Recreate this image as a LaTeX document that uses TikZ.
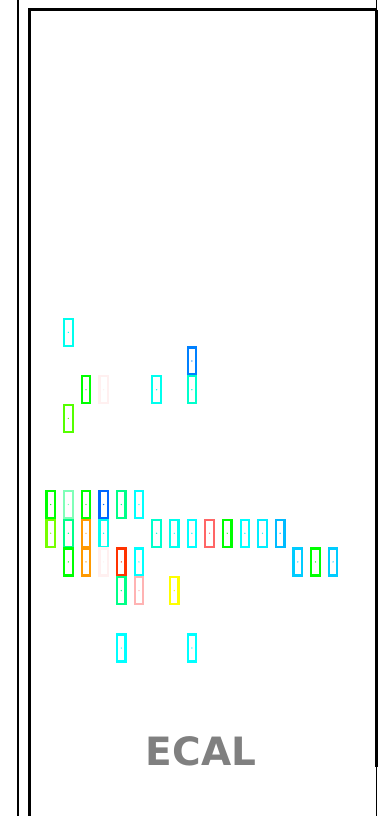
\documentclass[tikz,border=0pt]{standalone}
\usepackage{fontspec}
\newfontfamily\labelfont{DejaVu Sans}
\definecolor{aqua}{HTML}{00FFEE}
\definecolor{hitcyan}{HTML}{00FFFF}
\definecolor{hitgreen}{HTML}{00FF00}
\definecolor{hityellow}{HTML}{FFFF00}
\definecolor{turq}{HTML}{00FFCC}
\definecolor{spring}{HTML}{00FF88}
\definecolor{mint}{HTML}{80FFB8}
\definecolor{lime}{HTML}{55FF00}
\definecolor{chart}{HTML}{77FF00}
\definecolor{dodger}{HTML}{0080FF}
\definecolor{deepblue}{HTML}{0066FF}
\definecolor{sky}{HTML}{00BBFF}
\definecolor{skylight}{HTML}{00CCFF}
\definecolor{cyanlight}{HTML}{00EEFF}
\definecolor{hitorange}{HTML}{FF9900}
\definecolor{hitred}{HTML}{FF3300}
\definecolor{salmon}{HTML}{FF6666}
\definecolor{rose}{HTML}{FFB3B3}
\definecolor{faint}{HTML}{FFF0F0}

\begin{document}
\begin{tikzpicture}[x=1pt, y=-1pt,
  frame/.style = {line width=3pt},
  cell/.style = {shape=rectangle, draw, line width=2.2pt, inner sep=0pt,
    minimum width=8.5pt, minimum height=27pt}]
  \useasboundingbox (0,0) rectangle (380,816);
  \draw[line width=1.8pt] (18.3,0) -- (18.3,816);
  \draw[frame] (29,816) -- (29,10) -- (376,10);
  \draw[line width=1pt] (376,0) -- (376,816);
  \draw[frame] (376,10) -- (376,767);
  \foreach \c/\r/\col in {1/-6/aqua, 8/-5/dodger,
      2/-4/hitgreen, 3/-4/faint, 6/-4/aqua, 8/-4/turq, 1/-3/lime,
      0/0/hitgreen, 1/0/mint, 2/0/hitgreen, 3/0/deepblue, 4/0/spring, 5/0/hitcyan,
      0/1/chart, 1/1/spring, 2/1/hitorange, 3/1/aqua, 6/1/turq, 7/1/aqua,
      8/1/hitcyan, 9/1/salmon, 10/1/hitgreen, 11/1/hitcyan, 12/1/cyanlight, 13/1/sky,
      1/2/hitgreen, 2/2/hitorange, 3/2/faint, 4/2/hitred, 5/2/hitcyan,
      14/2/skylight, 15/2/hitgreen, 16/2/skylight,
      4/3/spring, 5/3/rose, 7/3/hityellow, 4/5/hitcyan, 8/5/hitcyan} {
    \node[cell, draw=\col] (h-\c-\r) at ({50.7+17.65*\c},{504.5+28.7*\r}) {};
    \fill[\col] (h-\c-\r) circle (0.7);
  }
  \node[text=gray, font=\labelfont\bfseries\fontsize{39}{39}\selectfont]
    (ecal) at (201,751) {ECAL};
\end{tikzpicture}
\end{document}
